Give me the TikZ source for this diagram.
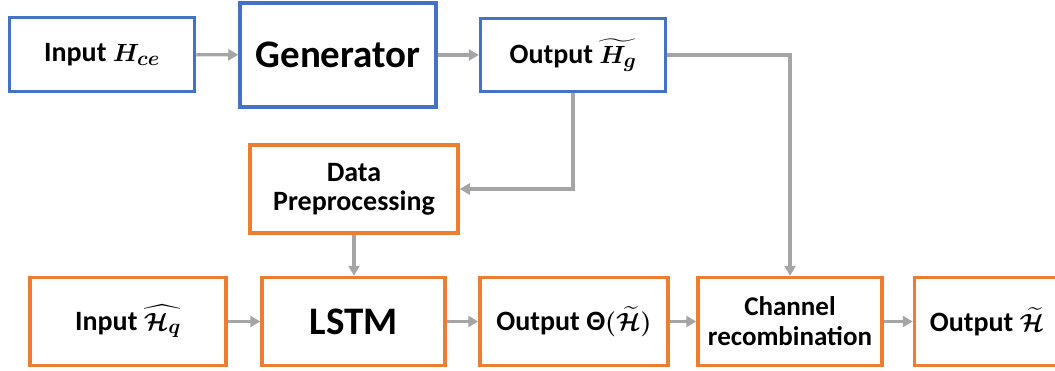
\documentclass[tikz,border=0pt]{standalone}
\usepackage[no-math]{fontspec}
\setmainfont{Carlito}
\usepackage{amsmath}
\usetikzlibrary{arrows.meta}
\definecolor{bblue}{HTML}{4472C4}
\definecolor{borange}{HTML}{ED7D31}
\definecolor{agray}{HTML}{A5A5A5}
\begin{document}
\begin{tikzpicture}[x=1pt,y=-1pt,
  box/.style={draw, line width=3.5pt, fill=white, inner sep=0pt, align=center,
    font=\bfseries\boldmath\fontsize{28}{29}\selectfont},
  bluebox/.style={box, draw=bblue},
  orbox/.style={box, draw=borange},
  bigtext/.style={font=\bfseries\fontsize{39}{40}\selectfont},
  conn/.style={draw=agray, line width=3.2pt, -{Triangle[length=10pt,width=11pt]}},
  line/.style={draw=agray, line width=3.2pt}]
\useasboundingbox (0,0) rectangle (1055,370);
\fill[white] (0,0) rectangle (1055,370);
% top row
\node[bluebox, minimum width=185pt, minimum height=74pt] (in1) at (102,54.5) {Input $H_{ce}$};
\node[bluebox, bigtext, minimum width=196pt, minimum height=104pt] (gen) at (338,55) {Generator};
\node[bluebox, minimum width=185pt, minimum height=73pt] (out1) at (573,55) {Output $\widetilde{H_g}$};
% middle
\node[orbox, minimum width=208pt, minimum height=88pt] (dp) at (354,189) {Data\\Preprocessing};
% bottom row
\node[orbox, minimum width=196pt, minimum height=88pt] (in2) at (128,321.5) {Input $\widehat{\mathcal{H}_q}$};
\node[orbox, bigtext, minimum width=183pt, minimum height=88pt] (lstm) at (353.5,321.5) {LSTM};
\node[orbox, minimum width=188pt, minimum height=88pt] (out2) at (574,321.5) {Output Θ$\mathrm{(}\widetilde{\mathcal{H}}\mathrm{)}$};
\node[orbox, font=\bfseries\fontsize{27}{30}\selectfont, minimum width=184pt, minimum height=88pt] (cr) at (790,321.5) {Channel\\recombination};
\node[orbox, minimum width=145pt, minimum height=88pt] (out3) at (987,321.5) {Output $\widetilde{\mathcal{H}}$};
% connectors
\draw[conn] (in1) -- (gen);
\draw[conn] (gen) -- (out1);
\draw[conn] (out1.east) -| (cr.north);
\draw[conn] (out1.south) |- (dp.east);
\draw[conn] (dp.south) -- (dp.south |- lstm.north);
\draw[conn] (in2) -- (lstm);
\draw[conn] (lstm) -- (out2);
\draw[conn] (out2) -- (cr);
\draw[conn] (cr) -- (out3);
\end{tikzpicture}
\end{document}
